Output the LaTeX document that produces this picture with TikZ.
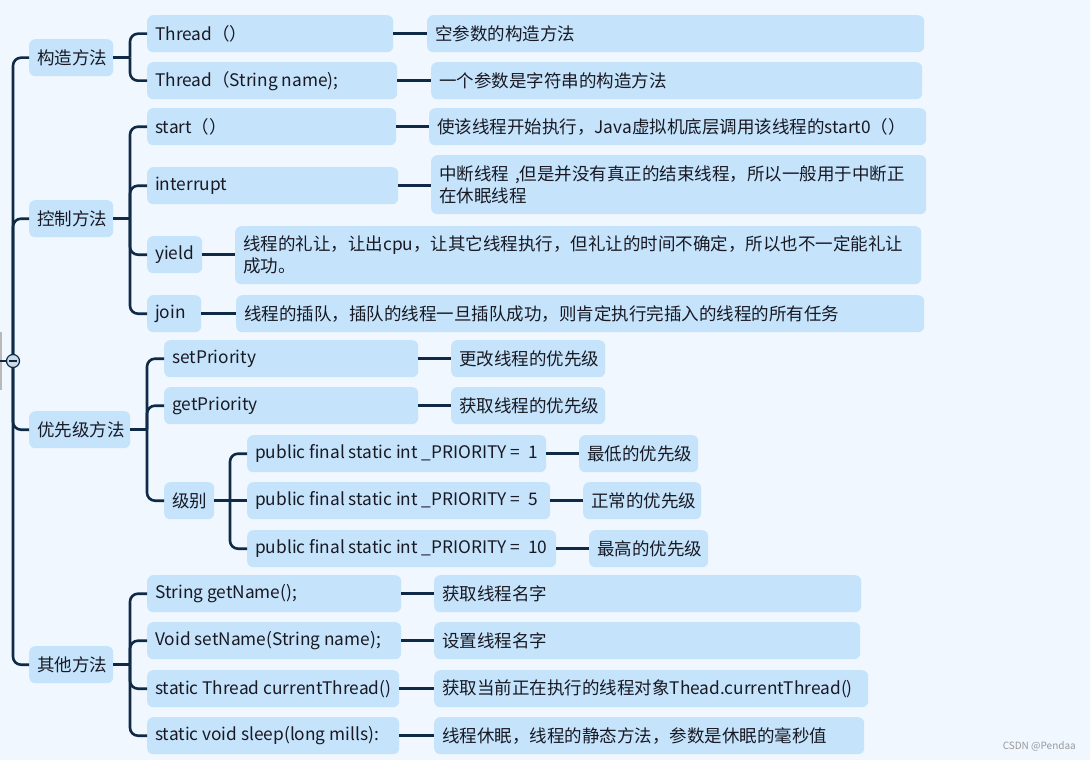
\documentclass[tikz,border=0pt]{standalone}
\usepackage{fontspec}
\setmainfont{Noto Sans CJK SC}
\definecolor{bg}{RGB}{240,247,255}
\definecolor{boxc}{RGB}{197,228,252}
\definecolor{ln}{RGB}{14,42,70}
\definecolor{txt}{RGB}{25,25,35}
\definecolor{knob}{RGB}{205,218,232}
\newcommand\latf{\fontsize{17.3}{22}\selectfont}
\newcommand\lt[1]{{\latf #1}}
% single-line box: name x1 y1 x2 y2 text
\newcommand\bx[6]{%
  \pgfmathsetmacro\bxw{#4-#2-16}\pgfmathsetmacro\bxh{#5-#3}%
  \node[box, minimum height=\bxh pt] (#1) at (#2,#3) {\makebox[\bxw pt][l]{#6}};}
% multi-line box
\newcommand\bxm[6]{%
  \pgfmathsetmacro\bxw{#4-#2-16}\pgfmathsetmacro\bxh{#5-#3}%
  \node[box, text width=\bxw pt, minimum height=\bxh pt] (#1) at (#2,#3) {#6};}
\begin{document}
\begin{tikzpicture}[x=1pt,y=-1pt,
  box/.style={fill=boxc, rounded corners=6pt, anchor=north west, inner xsep=8pt, inner ysep=0pt,
    align=left, text=txt, font=\fontsize{17.5}{22}\selectfont},
  link/.style={draw=ln, line width=2.6pt},
  brace/.style={link, rounded corners=8pt}]
\fill[bg] (0,0) rectangle (1090,760);
\useasboundingbox (0,0) rectangle (1090,760);
\fill[gray!55] (0,332) rectangle (1.5,390);

% level 1
\bx{k1}{29}{39}{113}{76}{构造方法}
\bx{k2}{29}{200}{113}{237}{控制方法}
\bx{k3}{29}{411}{130}{448}{优先级方法}
\bx{k4}{29}{646}{113}{683}{其他方法}

% constructors
\bx{c1}{147}{15}{393}{52}{\lt{Thread}（）}
\bx{c2}{147}{62}{397}{99}{\lt{Thread}（\lt{String name);}}
\bx{d1}{427}{15}{924}{52}{空参数的构造方法}
\bx{d2}{431}{62}{922}{99}{一个参数是字符串的构造方法}

% control
\bx{s1}{147}{108}{396}{145}{\lt{start}（）}
\bx{s2}{147}{167}{398}{204}{\lt{interrupt}}
\bx{s3}{147}{236}{202}{273}{\lt{yield}}
\bx{s4}{147}{295}{201}{332}{\lt{join}}
\bx{sd1}{429}{108}{926}{145}{使该线程开始执行，\lt{Java}虚拟机底层调用该线程的\lt{start0}（）}
\bxm{sd2}{431}{155}{926}{214}{中断线程 \lt{,}但是并没有真正的结束线程，所以一般用于中断正\\在休眠线程}
\bxm{sd3}{235}{226}{921}{284}{线程的礼让，让出\lt{cpu}，让其它线程执行，但礼让的时间不确定，所以也不一定能礼让\\成功。}
\bx{sd4}{236}{295}{924}{332}{线程的插队，插队的线程一旦插队成功，则肯定执行完插入的线程的所有任务}

% priority
\bx{p1}{164}{340}{418}{377}{\lt{setPriority}}
\bx{p2}{164}{387}{418}{424}{\lt{getPriority}}
\bx{p3}{164}{482}{214}{519}{级别}
\bx{pd1}{451}{340}{605}{377}{更改线程的优先级}
\bx{pd2}{451}{387}{605}{424}{获取线程的优先级}
\bx{q1}{247}{435}{546}{472}{\lt{public final static int \_PRIORITY =\ \ 1}}
\bx{q2}{247}{482}{550}{519}{\lt{public final static int \_PRIORITY =\ \ 5}}
\bx{q3}{247}{530}{556}{567}{\lt{public final static int \_PRIORITY =\ \ 10}}
\bx{qd1}{579}{435}{698}{472}{最低的优先级}
\bx{qd2}{583}{482}{701}{519}{正常的优先级}
\bx{qd3}{589}{530}{708}{567}{最高的优先级}

% others
\bx{o1}{147}{575}{401}{612}{\lt{String getName();}}
\bx{o2}{147}{622}{401}{659}{\lt{Void setName(String name);}}
\bx{o3}{147}{670}{399}{707}{\lt{static Thread currentThread()}}
\bx{o4}{147}{717}{399}{754}{\lt{static void sleep(long mills):}}
\bx{od1}{434}{575}{861}{612}{获取线程名字}
\bx{od2}{434}{622}{860}{659}{设置线程名字}
\bx{od3}{434}{670}{868}{707}{获取当前正在执行的线程对象\lt{Thead.currentThread()}}
\bx{od4}{434}{717}{864}{754}{线程休眠，线程的静态方法，参数是休眠的毫秒值}

% junction columns
\coordinate (jk) at (130,0);
\coordinate (js) at (130,0);
\coordinate (jp) at (147,0);
\coordinate (jq) at (230,0);
\coordinate (jo) at (130,0);

% trunk
\coordinate (rootc) at (13,361);
\coordinate (stub) at (0,361);
\foreach \k in {k1,k2,k3,k4} \draw[brace] (rootc) |- (\k.west);
\draw[link] (stub) -- (rootc);

% branches
\draw[link] (k1.east) -- (k1.east -| jk);
\foreach \c in {c1,c2} \draw[brace] (k1.east -| jk) |- (\c.west);
\draw[link] (k2.east) -- (k2.east -| js);
\foreach \c in {s1,s2,s3,s4} \draw[brace] (k2.east -| js) |- (\c.west);
\draw[link] (k3.east) -- (k3.east -| jp);
\foreach \c in {p1,p2,p3} \draw[brace] (k3.east -| jp) |- (\c.west);
\draw[link] (p3.east) -- (p3.east -| jq);
\foreach \c in {q1,q3} \draw[brace] (p3.east -| jq) |- (\c.west);
\draw[link] (p3.east -| jq) -- (q2.west);
\draw[link] (k4.east) -- (k4.east -| jo);
\foreach \c in {o1,o2,o3,o4} \draw[brace] (k4.east -| jo) |- (\c.west);

% leaf links
\foreach \a/\b in {c1/d1,c2/d2,s1/sd1,s2/sd2,s3/sd3,s4/sd4,p1/pd1,p2/pd2,q1/qd1,q2/qd2,q3/qd3,o1/od1,o2/od2,o3/od3,o4/od4}
  \draw[link] (\a.east) -- (\a.east -| \b.west);

% collapse knob
\node[circle, draw=ln, fill=knob, line width=1.2pt, minimum size=13pt, inner sep=0pt] (root) at (rootc) {};
\draw[ln, line width=1.3pt] ([xshift=-3.8pt]root.center) -- ([xshift=3.8pt]root.center);

% watermark
\node[anchor=east, text=gray!80, font=\fontsize{10}{12}\selectfont, inner sep=0pt] (wm) at (1076,746) {CSDN @Pendaa};
\end{tikzpicture}
\end{document}
